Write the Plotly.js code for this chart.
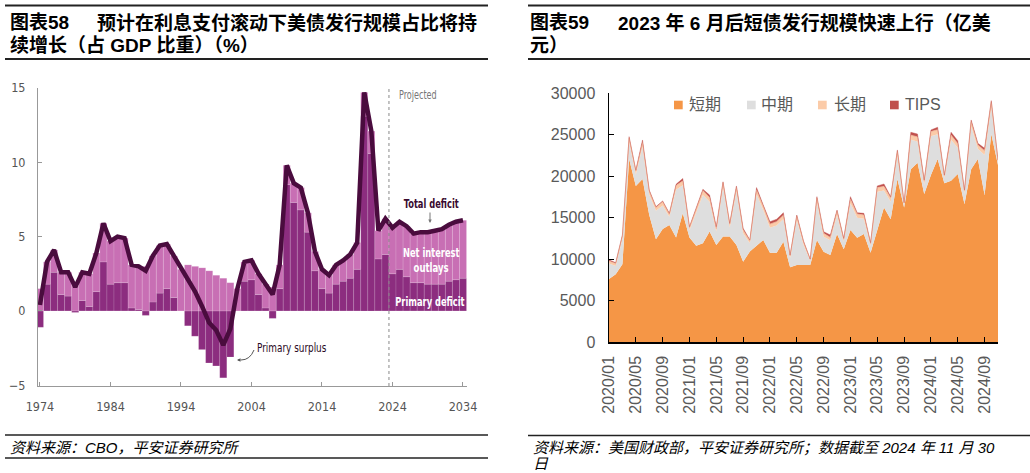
<!DOCTYPE html>
<html><head><meta charset="utf-8">
<script src="https://cdn.plot.ly/plotly-3.0.1.min.js"></script>
<style>html,body{margin:0;padding:0;background:#fff;}#chart{width:1030px;height:473px;}</style>
</head><body><div id="chart"></div>
<script>
// ---------- Left chart: CBO deficits (% of GDP) ----------
const years = [1974,1975,1976,1977,1978,1979,1980,1981,1982,1983,1984,1985,1986,1987,1988,1989,1990,1991,1992,1993,1994,1995,1996,1997,1998,1999,2000,2001,2002,2003,2004,2005,2006,2007,2008,2009,2010,2011,2012,2013,2014,2015,2016,2017,2018,2019,2020,2021,2022,2023,2024,2025,2026,2027,2028,2029,2030,2031,2032,2033,2034];
const totalDeficit = [0.4,3.3,4.1,2.6,2.6,1.6,2.6,2.5,3.9,5.9, 4.7,5.0,4.9,3.1,3.0,2.7,3.7,4.4,4.5,3.7, 2.8,2.1,1.3,0.3,-0.8,-1.3,-2.3,-1.2,1.5,3.3, 3.4,2.5,1.8,1.1,3.1,9.8,8.6,8.3,6.6,4.0, 2.8,2.4,3.1,3.4,3.8,4.6,14.7,12.1,5.4,6.2, 5.6,6.0,5.7,5.2,5.3,5.3,5.4,5.5,5.8,6.0,6.1];
const primaryDeficit = [-1.1,1.8,2.6,1.1,1.0,-0.1,0.7,0.3,1.3,3.3, 1.8,1.9,1.9,0.2,0.1,-0.3,0.6,1.2,1.5,0.9, 0.0,-1.0,-1.7,-2.6,-3.5,-3.7,-4.5,-3.1,0.0,2.0, 2.1,1.1,0.2,-0.5,1.5,8.5,7.3,6.8,5.3,2.7, 1.5,1.2,1.8,2.0,2.2,2.8,13.1,10.6,3.5,3.8, 2.5,2.8,2.3,1.9,1.9,1.8,1.8,1.8,2.0,2.1,2.2];
const netInterest = [1.5,1.5,1.5,1.5,1.6,1.7,1.9,2.2,2.6,2.6, 2.9,3.1,3.0,2.9,2.9,3.0,3.1,3.2,3.0,2.8, 2.8,3.1,3.0,2.9,2.7,2.4,2.2,1.9,1.5,1.3, 1.3,1.4,1.6,1.6,1.6,1.3,1.3,1.5,1.3,1.3, 1.3,1.2,1.3,1.4,1.6,1.8,1.6,1.5,1.9,2.4, 3.1,3.2,3.4,3.3,3.4,3.5,3.6,3.7,3.8,3.9,3.9];
const leftXTicks = [1974,1984,1994,2004,2014,2024,2034];
const leftYTicks = [-5,0,5,10,15];

// ---------- Right chart: Treasury issuance (亿美元) ----------
const months = ["2020/01","2020/02","2020/03","2020/04","2020/05","2020/06","2020/07","2020/08","2020/09","2020/10","2020/11","2020/12",
"2021/01","2021/02","2021/03","2021/04","2021/05","2021/06","2021/07","2021/08","2021/09","2021/10","2021/11","2021/12",
"2022/01","2022/02","2022/03","2022/04","2022/05","2022/06","2022/07","2022/08","2022/09","2022/10","2022/11","2022/12",
"2023/01","2023/02","2023/03","2023/04","2023/05","2023/06","2023/07","2023/08","2023/09","2023/10","2023/11","2023/12",
"2024/01","2024/02","2024/03","2024/04","2024/05","2024/06","2024/07","2024/08","2024/09","2024/10","2024/11"];
const shortTerm = [7600,8150,9360,22050,18800,19640,15300,12370,13600,14100, 12600,15500,12600,11600,11900,13300,11700,12700,12700,11700, 9680,10900,11600,12300,10760,10760,12090,9000,9280,9280, 9280,12290,10880,10480,13010,11170,13500,12570,13010,10760, 13500,16190,14780,19640,16190,20810,21610,17830,20120,22050, 19120,19440,20240,16630,20810,22050,17710,25060,21330];
const mediumTerm = [1850,1010,3040,2040,1350,3900,2450,3430,2850,1000, 5750,3400,850,3950,5800,3600,1600,6000,1100,6450, 3420,1000,6200,3600,2990,3290,2740,1080,5420,2440, 520,4570,1810,1770,2290,920,3210,2410,1840,810, 4600,2050,2130,2800,350,3560,2550,1090,4680,2970, 600,4930,3170,1190,5190,1240,4830,3270,350];
const longTerm = [300,300,400,500,450,500,450,400,450,300, 500,500,350,450,550,500,350,500,400,500, 400,300,500,450,450,450,450,300,450,350, 150,500,400,350,450,300,500,450,450,300, 500,500,450,550,200,550,550,450,550,550, 300,550,500,400,550,450,500,600,200];
const tips = [150,100,100,150,100,300,100,100,100,100, 150,300,100,100,150,300,250,100,100,150, 200,100,300,150,300,300,300,100,150,100, 50,150,200,300,150,100,300,150,200,100, 200,300,150,150,50,350,350,150,200,300, 100,350,350,100,200,200,300,150,50];
const rightXTicks = ["2020/01","2020/05","2020/09","2021/01","2021/05","2021/09","2022/01","2022/05","2022/09","2023/01","2023/05","2023/09","2024/01","2024/05","2024/09"];
const rightYTicks = [0,5000,10000,15000,20000,25000,30000];
const rightYTickText = ["0","5000","10000","15000","20000","25000","30000"];
const seriesNames = ["短期","中期","长期","TIPS"];
const seriesColors = ["#f59646","#dedede","#fbcba8","#c0504d"];

// ---------- helpers ----------
const W = 1030, H = 473;
const px = x => x / W, py = y => 1 - y / H;
const NARROW = '"Liberation Sans Narrow", "Arial Narrow", "DejaVu Sans Condensed", sans-serif';
const CJK = '"Liberation Sans", Arial, "Noto Sans CJK SC", sans-serif';
const PLUM = '#4a0c3e';

const traces = [
  {type:'bar', x:years, y:primaryDeficit, xaxis:'x', yaxis:'y', name:'Primary deficit',
   marker:{color:'#8c2d7f', line:{width:0.5, color:'rgba(255,255,255,0.25)'}}, showlegend:false, hoverinfo:'skip'},
  {type:'bar', x:years, y:netInterest, xaxis:'x', yaxis:'y', name:'Net interest outlays',
   marker:{color:'#c86fb4', line:{width:0.5, color:'rgba(255,255,255,0.25)'}}, showlegend:false, hoverinfo:'skip'},
  {type:'scatter', mode:'lines', x:years, y:totalDeficit, xaxis:'x', yaxis:'y', name:'Total deficit',
   line:{color:PLUM, width:4.5}, showlegend:false, hoverinfo:'skip'}
];
const rightData = [shortTerm, mediumTerm, longTerm, tips];
const lineW = [0, 0, 0.8, 0.6];
const lineC = ["#f59646","#dedede","#f4b79a","rgba(192,80,77,0.7)"];
rightData.forEach((vals, i) => {
  traces.push({type:'scatter', mode:'lines', x:months, y:vals, xaxis:'x2', yaxis:'y2', stackgroup:'one',
    name:seriesNames[i], fillcolor:seriesColors[i], line:{color:lineC[i], width:lineW[i]}, showlegend:false, hoverinfo:'skip'});
});

const shapes = [];
const rule = (x0, x1, y, w) => shapes.push({type:'line', xref:'paper', yref:'paper', x0:px(x0), x1:px(x1), y0:py(y), y1:py(y), line:{color:'#222', width:w}});
rule(5, 488, 5.5, 2); rule(5, 488, 59, 2); rule(5, 488, 435, 1.5); rule(5, 488, 458, 1.5);
rule(528, 1030, 5.5, 2); rule(528, 1030, 59, 2); rule(528, 1030, 435.5, 1.5);
shapes.push({type:'line', xref:'x', yref:'y domain', x0:2023.5, x1:2023.5, y0:0, y1:1, line:{color:'#888', width:1, dash:'dot'}});
shapes.push({type:'path', xref:'paper', yref:'paper',
  path:`M ${px(254)},${py(350)} Q ${px(250)},${py(360)} ${px(241)},${py(360)}`, line:{color:'#555', width:1}});
const legSq = [674, 747, 818, 890];
legSq.forEach((x, i) => shapes.push({type:'rect', xref:'paper', yref:'paper', x0:px(x), x1:px(x+8.7), y0:py(109.3), y1:py(100.7), fillcolor:seriesColors[i], line:{width:0}}));

const ann = [];
const txt = (x, y, text, size, color, family, xanchor) => ann.push({xref:'paper', yref:'paper', x:px(x), y:py(y), text, showarrow:false,
  xanchor:xanchor||'left', yanchor:'middle', font:{size, color, family}});
txt(8, 23, '<b>图表58</b>', 19, '#000', CJK);
txt(95, 23, '<b>预计在利息支付滚动下美债发行规模占比将持</b>', 19, '#000', CJK);
txt(8, 46, '<b>续增长（占 GDP 比重）（%）</b>', 19, '#000', CJK);
txt(528, 23, '<b>图表59</b>', 19, '#000', CJK);
txt(616, 23, '<b>2023 年 6 月后短债发行规模快速上行（亿美</b>', 19, '#000', CJK);
txt(528, 46, '<b>元）</b>', 19, '#000', CJK);
txt(8, 447, '<i>资料来源：CBO，平安证券研究所</i>', 15, '#000', CJK);
txt(531, 447, '<i>资料来源：美国财政部，平安证券研究所；数据截至 2024 年 11 月 30</i>', 15, '#000', CJK);
txt(531, 463, '<i>日</i>', 15, '#000', CJK);
txt(397, 95, 'Projected', 11.5, '#777', NARROW);
txt(431, 203, '<b>Total deficit</b>', 12.5, '#3a0a30', NARROW, 'center');
txt(431, 252, '<b>Net interest</b>', 12.5, '#fff', NARROW, 'center');
txt(431, 267, '<b>outlays</b>', 12.5, '#fff', NARROW, 'center');
txt(430, 301, '<b>Primary deficit</b>', 12.5, '#fff', NARROW, 'center');
txt(255, 347, 'Primary surplus', 12.5, '#2a0a25', NARROW);
ann.push({xref:'paper', yref:'paper', x:px(430), y:py(223), ax:0, ay:-12, text:'', showarrow:true, arrowhead:2, arrowsize:0.7, arrowwidth:1, arrowcolor:'#777'});
ann.push({xref:'paper', yref:'paper', x:px(237), y:py(360), ax:5, ay:0, text:'', showarrow:true, arrowhead:2, arrowsize:0.7, arrowwidth:1, arrowcolor:'#555'});
const legTx = [687, 759, 831.5, 902.5];
legTx.forEach((x, i) => txt(x, 104, seriesNames[i], 16, '#595959', CJK));

const layout = {
  width: W, height: H, margin:{l:0, r:0, t:0, b:0}, paper_bgcolor:'#fff', plot_bgcolor:'rgba(0,0,0,0)',
  barmode:'relative', bargap:0, showlegend:false,
  xaxis:{domain:[px(38), px(467)], anchor:'y', range:[1973.72, 2034.57], tickmode:'array', tickvals:leftXTicks,
    ticks:'inside', ticklen:4, tickcolor:'#999', showline:true, linecolor:'#999', linewidth:1, showgrid:false, zeroline:false,
    tickfont:{family:NARROW, size:12.5, color:'#555'}, ticklabelstandoff:9},
  yaxis:{domain:[py(386), py(88)], anchor:'x', range:[-5.05, 15], tickmode:'array', tickvals:leftYTicks,
    ticks:'inside', ticklen:4, tickcolor:'#999', showline:true, linecolor:'#999', linewidth:1, showgrid:false, zeroline:false,
    tickfont:{family:NARROW, size:12.5, color:'#555'}, ticklabelstandoff:9},
  xaxis2:{domain:[px(609), px(998)], anchor:'y2', type:'category', range:[0, months.length-1], tickmode:'array', tickvals:rightXTicks,
    ticktext:rightXTicks, tickangle:-90, ticks:'inside', ticklen:5, tickcolor:'#000', showline:true, linecolor:'#000', linewidth:1.5,
    showgrid:false, zeroline:false, tickfont:{family:CJK, size:16, color:'#595959'}, ticklabelstandoff:6},
  yaxis2:{domain:[py(342), py(93)], anchor:'x2', range:[0, 30000], tickmode:'array', tickvals:rightYTicks, ticktext:rightYTickText,
    ticks:'inside', ticklen:5, tickcolor:'#000', showline:true, linecolor:'#000', linewidth:1.5, showgrid:false, zeroline:false,
    tickfont:{family:CJK, size:16, color:'#595959'}, ticklabelstandoff:9},
  shapes, annotations: ann
};
// condensed look for the CBO chart labels (no narrow font installed)
const squeeze = {'Projected':[0.78,'left'], 'Total deficit':[0.74,'center'], 'Net interest':[0.74,'center'],
  'outlays':[0.76,'center'], 'Primary deficit':[0.74,'center'], 'Primary surplus':[0.79,'left']};
Plotly.newPlot('chart', traces, layout, {staticPlot:true, displayModeBar:false}).then(() => {
  document.querySelectorAll('#chart text.annotation-text').forEach(t => {
    const s = squeeze[t.textContent];
    if (s) {
      t.style.transformBox = 'fill-box';
      t.style.transformOrigin = s[1] === 'left' ? 'left center' : 'center';
      t.style.transform = `scaleX(${s[0]})`;
    }
  });
});
</script></body></html>
